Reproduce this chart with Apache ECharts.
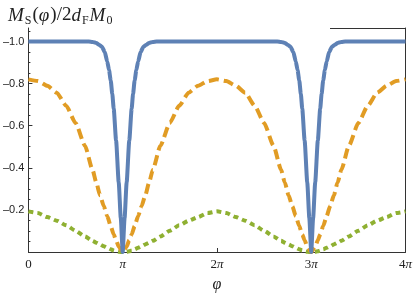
<!DOCTYPE html>
<html>
<head>
<meta charset="utf-8">
<script src="https://cdn.jsdelivr.net/npm/echarts@6/dist/echarts.min.js"></script>
<style>html,body{margin:0;padding:0;background:#fff}#c{width:416px;height:298px}</style>
</head>
<body>
<div id="c"></div>
<script>
// phi in units of pi
const phi = [0,0.1,0.2,0.3,0.4,0.5,0.6,0.68,0.72,0.76,0.8,0.836,0.873,0.905,0.93,0.958,1,
  1.042,1.07,1.095,1.127,1.164,1.2,1.24,1.28,1.32,1.4,1.5,1.6,1.7,1.8,1.9,2,
  2.1,2.2,2.3,2.4,2.5,2.6,2.68,2.72,2.76,2.8,2.836,2.873,2.905,2.93,2.958,3,
  3.042,3.07,3.095,3.127,3.164,3.2,3.24,3.28,3.32,3.4,3.5,3.6,3.7,3.8,3.9,4];

const orangeVals = [-0.82,-0.812,-0.79,-0.757,-0.695,-0.613,-0.505,-0.391,-0.33,-0.269,-0.217,-0.171,-0.123,-0.083,-0.056,-0.025,0,
  -0.025,-0.056,-0.083,-0.123,-0.171,-0.217,-0.269,-0.33,-0.391,-0.505,-0.613,-0.695,-0.757,-0.79,-0.812,-0.82,
  -0.812,-0.79,-0.757,-0.695,-0.613,-0.505,-0.391,-0.33,-0.269,-0.217,-0.171,-0.123,-0.083,-0.056,-0.025,0,
  -0.025,-0.056,-0.083,-0.123,-0.171,-0.217,-0.269,-0.33,-0.391,-0.505,-0.613,-0.695,-0.757,-0.79,-0.812,-0.82];

const greenVals = [-0.193,-0.185,-0.166,-0.149,-0.127,-0.101,-0.074,-0.053,-0.044,-0.036,-0.027,-0.02,-0.013,-0.007,-0.003,-0.001,0,
  -0.001,-0.003,-0.007,-0.013,-0.02,-0.027,-0.036,-0.044,-0.053,-0.074,-0.101,-0.127,-0.149,-0.166,-0.185,-0.193,
  -0.185,-0.166,-0.149,-0.127,-0.101,-0.074,-0.053,-0.044,-0.036,-0.027,-0.02,-0.013,-0.007,-0.003,-0.001,0,
  -0.001,-0.003,-0.007,-0.013,-0.02,-0.027,-0.036,-0.044,-0.053,-0.074,-0.101,-0.127,-0.149,-0.166,-0.185,-0.193];

// blue curve sampled more densely around its dips
const phiBlue = [0,0.5,0.64,0.68,0.72,0.75,0.78,0.81,0.836,0.855,0.873,0.89,0.905,0.93,0.958,0.98,1,
  1.02,1.042,1.07,1.095,1.11,1.127,1.145,1.164,1.19,1.22,1.25,1.28,1.32,1.36,1.5,2,
  2.5,2.64,2.68,2.72,2.75,2.78,2.81,2.836,2.855,2.873,2.89,2.905,2.93,2.958,2.98,3,
  3.02,3.042,3.07,3.095,3.11,3.127,3.145,3.164,3.19,3.22,3.25,3.28,3.32,3.36,3.5,4];
const blueVals = [-1,-1,-1,-0.998,-0.993,-0.985,-0.975,-0.95,-0.905,-0.865,-0.815,-0.75,-0.68,-0.53,-0.33,-0.16,0,
  -0.16,-0.33,-0.53,-0.68,-0.75,-0.815,-0.865,-0.905,-0.95,-0.975,-0.985,-0.993,-0.998,-1,-1,-1,
  -1,-1,-0.998,-0.993,-0.985,-0.975,-0.95,-0.905,-0.865,-0.815,-0.75,-0.68,-0.53,-0.33,-0.16,0,
  -0.16,-0.33,-0.53,-0.68,-0.75,-0.815,-0.865,-0.905,-0.95,-0.975,-0.985,-0.993,-0.998,-1,-1,-1];

const xTicks = [0,1,2,3,4];
const xTickLabels = ['0','π','2π','3π','4π'];
const yTicks = [-1.0,-0.8,-0.6,-0.4,-0.2];
const yMinorTicks = [-1.05,-0.95,-0.9,-0.85,-0.75,-0.7,-0.65,-0.55,-0.5,-0.45,-0.35,-0.3,-0.25,-0.15,-0.1,-0.05];

const AX = '#333';
const SERIF = '"Liberation Serif","DejaVu Serif",serif';

function pairs(xs, vals){ return xs.map((p,i)=>[p, vals[i]]); }

const chart = echarts.init(document.getElementById('c'), null, {renderer:'canvas'});
chart.setOption({
  animation:false,
  backgroundColor:'#fff',
  title:{
    left:3, top:-1,
    text:'{i|M}{s|S}{r|(}{i|φ}{r|)/2}{i|d}{s|F}{i|M}{s|0}',
    textStyle:{
      fontWeight:'normal',
      rich:{
        i:{fontFamily:SERIF, fontStyle:'italic', fontWeight:'normal', fontSize:19, color:'#222', lineHeight:23, verticalAlign:'middle', padding:[0,1,0,0]},
        r:{fontFamily:SERIF, fontWeight:'normal', fontSize:19, color:'#222', lineHeight:23, verticalAlign:'middle'},
        s:{fontFamily:SERIF, fontWeight:'normal', fontSize:12, color:'#222', lineHeight:12, verticalAlign:'bottom', padding:[0,1,0,0]}
      }
    }
  },
  grid:{left:28, right:10.5, top:28, bottom:38, containLabel:false},
  xAxis:[{
    type:'value', min:0, max:4, position:'bottom',
    name:'φ', nameLocation:'middle', nameGap:25,
    nameTextStyle:{fontFamily:SERIF, fontStyle:'italic', fontSize:16, color:'#222'},
    axisLine:{show:true, onZero:false, lineStyle:{color:AX, width:1}},
    axisTick:{show:true, inside:true, length:4, customValues:xTicks, lineStyle:{color:AX}},
    axisLabel:{
      show:true, margin:6, customValues:xTicks,
      formatter:function(v){
        const idx = xTicks.indexOf(v);
        const lab = idx>=0 ? xTickLabels[idx] : '';
        const m = lab.match(/^(\d*)(π?)$/);
        let s = '';
        if (m[1]) s += '{r|'+m[1]+'}';
        if (m[2]) s += '{i|π}';
        return s;
      },
      rich:{
        r:{fontFamily:SERIF, fontSize:13, color:'#222'},
        i:{fontFamily:SERIF, fontStyle:'italic', fontSize:13, color:'#222'}
      }
    },
    splitLine:{show:false}
  }],
  yAxis:[{
    type:'value', inverse:true, min:-1.064, max:0, position:'left',
    axisLine:{show:true, onZero:false, lineStyle:{color:AX, width:1}},
    axisTick:{show:true, inside:true, length:4, customValues:yTicks, lineStyle:{color:AX}},
    axisLabel:{show:true, margin:4, customValues:yTicks,
      fontFamily:'"Liberation Sans",Arial,sans-serif', fontSize:11, color:'#222',
      formatter:function(v){ return '\u2013' + Math.abs(v).toFixed(1); }},
    splitLine:{show:false}
  },{
    type:'value', inverse:true, min:-1.064, max:0, position:'left',
    axisLine:{show:false},
    axisTick:{show:true, inside:true, length:2, customValues:yMinorTicks, lineStyle:{color:AX}},
    axisLabel:{show:false},
    splitLine:{show:false}
  },{
    type:'value', inverse:true, min:-1.064, max:0, position:'right',
    axisLine:{show:true, onZero:false, lineStyle:{color:AX, width:1}},
    axisTick:{show:false}, axisLabel:{show:false}, splitLine:{show:false}
  }],
  graphic:[{
    type:'line', shape:{x1:330, y1:28.5, x2:406, y2:28.5},
    style:{stroke:AX, lineWidth:1}, z:10
  }],
  series:[{
    type:'line', data:pairs(phi, greenVals), showSymbol:false, clip:false, z:3,
    smooth:0.2, smoothMonotone:'x',
    lineStyle:{color:'#8FB032', width:4, type:[5,4], cap:'butt'}
  },{
    type:'line', data:pairs(phi, orangeVals), showSymbol:false, clip:false, z:4,
    smooth:0.2, smoothMonotone:'x',
    lineStyle:{color:'#E19C24', width:4, type:[10,5], cap:'butt'}
  },{
    type:'line', data:pairs(phiBlue, blueVals), showSymbol:false, clip:false, z:5,
    smooth:0.2, smoothMonotone:'x',
    lineStyle:{color:'#5E81B5', width:4, type:'solid', join:'round'}
  }]
});
</script>
</body>
</html>
